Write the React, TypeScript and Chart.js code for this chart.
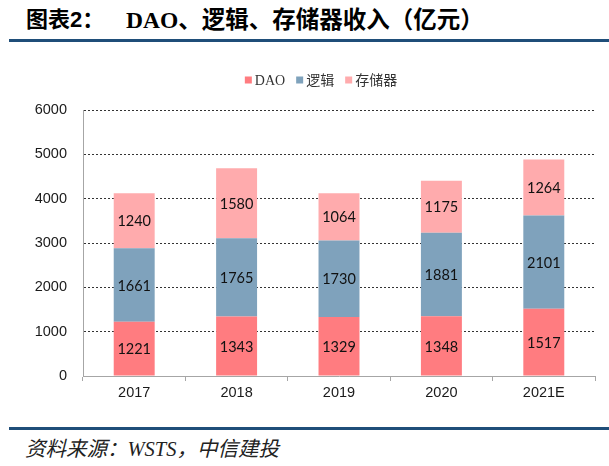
import React, { useEffect, useRef } from "react";
import { Chart, registerables } from "chart.js";

Chart.register(...registerables);

const categories = ["2017", "2018", "2019", "2020", "2021E"];
const daoValues = [1221, 1343, 1329, 1348, 1517];
const logicValues = [1661, 1765, 1730, 1881, 2101];
const memoryValues = [1240, 1580, 1064, 1175, 1264];
const seriesNames = ["DAO", "逻辑", "存储器"];
const seriesColors = ["#FF7C80", "#7FA2BC", "#FFABAD"];
const yMin = 0;
const yMax = 6000;
const yStep = 1000;

const CANVAS_W = 609;
const CANVAS_H = 355;
const CANVAS_TOP = 60;
const LEGEND_CX = 321;
const LEGEND_CY = 20;

const legendPlugin = {
  id: "customLegend",
  afterDraw(chart: any) {
    const ctx = chart.ctx as CanvasRenderingContext2D;
    ctx.save();
    ctx.font = '14px "Liberation Serif", "Noto Sans CJK SC", serif';
    ctx.textBaseline = "middle";
    const box = 7;
    const gapBT = 3;
    const gapItems = 11;
    const items = chart.data.datasets.map((ds: any) => ({
      label: ds.label as string,
      color: ds.backgroundColor as string,
      w: ctx.measureText(ds.label).width,
    }));
    const total =
      items.reduce((s: number, it: any) => s + box + gapBT + it.w, 0) +
      gapItems * (items.length - 1);
    let x = LEGEND_CX - total / 2;
    for (const it of items) {
      ctx.fillStyle = it.color;
      ctx.fillRect(x, LEGEND_CY - box / 2, box, box);
      x += box + gapBT;
      ctx.fillStyle = "#333";
      ctx.fillText(it.label, x, LEGEND_CY + 1);
      x += it.w + gapItems;
    }
    ctx.restore();
  },
};

const valueLabelPlugin = {
  id: "valueLabels",
  afterDatasetsDraw(chart: any) {
    const ctx = chart.ctx as CanvasRenderingContext2D;
    ctx.save();
    ctx.font = '14.5px Lato, "Open Sans", sans-serif';
    ctx.fillStyle = "#111";
    ctx.textAlign = "center";
    ctx.textBaseline = "middle";
    chart.data.datasets.forEach((ds: any, di: number) => {
      const meta = chart.getDatasetMeta(di);
      meta.data.forEach((el: any, i: number) => {
        const { x, y, base } = el.getProps(["x", "y", "base"], true);
        ctx.fillText(String(ds.data[i]), x, (y + base) / 2 + 1);
      });
    });
    ctx.restore();
  },
};

export default function App() {
  const canvasRef = useRef<HTMLCanvasElement | null>(null);

  useEffect(() => {
    if (!canvasRef.current) return;
    const chart = new Chart(canvasRef.current, {
      type: "bar",
      data: {
        labels: categories,
        datasets: [
          { label: seriesNames[0], data: daoValues, backgroundColor: seriesColors[0] },
          { label: seriesNames[1], data: logicValues, backgroundColor: seriesColors[1] },
          { label: seriesNames[2], data: memoryValues, backgroundColor: seriesColors[2] },
        ],
      },
      options: {
        responsive: false,
        animation: false,
        devicePixelRatio: 1,
        layout: { padding: { top: 50, right: 14, left: 0, bottom: 0 } },
        datasets: { bar: { categoryPercentage: 1, barPercentage: 0.4 } },
        plugins: {
          legend: { display: false },
          tooltip: { enabled: false },
        },
        scales: {
          x: {
            stacked: true,
            grid: {
              offset: true,
              drawOnChartArea: false,
              drawTicks: true,
              tickLength: 5,
              tickColor: "#A6A6A6",
            },
            border: { display: true, color: "#A6A6A6", width: 1 },
            ticks: {
              color: "#1a1a1a",
              padding: 3,
              font: { family: '"Liberation Sans", Arial, sans-serif', size: 14.5 },
            },
            afterFit(scale: any) {
              scale.height = 39;
            },
          },
          y: {
            stacked: true,
            min: yMin,
            max: yMax,
            ticks: {
              stepSize: yStep,
              color: "#1a1a1a",
              padding: 16,
              font: { family: '"Liberation Sans", Arial, sans-serif', size: 14.5 },
              callback: (v: any) => String(v),
            },
            grid: {
              drawTicks: false,
              color: (c: any) => (c.tick && c.tick.value === 0 ? "rgba(0,0,0,0)" : "#333333"),
              lineWidth: 1,
            },
            border: { display: true, color: "#A6A6A6", width: 1, dash: [2, 2] },
            afterFit(scale: any) {
              scale.width = 83;
            },
          },
        },
      } as any,
      plugins: [legendPlugin, valueLabelPlugin],
    });
    return () => chart.destroy();
  }, []);

  return (
    <div style={{ position: "absolute", left: 0, top: 0, width: 609, height: 466, background: "#fff", overflow: "hidden" }}>
      <div
        style={{
          position: "absolute",
          left: 26,
          top: 6,
          fontSize: 22,
          fontWeight: "bold",
          fontFamily: '"Liberation Sans", "Noto Sans CJK SC", sans-serif',
          color: "#000",
          whiteSpace: "nowrap",
          lineHeight: "28px",
        }}
      >
        图表2：
      </div>
      <div
        style={{
          position: "absolute",
          left: 126,
          top: 5,
          fontSize: 23.5,
          fontWeight: "bold",
          fontFamily: '"Liberation Serif", "Noto Sans CJK SC", serif',
          color: "#000",
          whiteSpace: "nowrap",
          lineHeight: "30px",
        }}
      >
        DAO、逻辑、存储器收入（亿元）
      </div>
      <div style={{ position: "absolute", left: 9, right: 0, top: 39, height: 3, background: "#1F4E79" }} />
      <div style={{ position: "absolute", left: 0, top: CANVAS_TOP, width: CANVAS_W, height: CANVAS_H }}>
        <canvas ref={canvasRef} width={CANVAS_W} height={CANVAS_H} style={{ width: CANVAS_W, height: CANVAS_H, display: "block" }} />
      </div>
      <div style={{ position: "absolute", left: 9, right: 0, top: 427, height: 3, background: "#1F4E79" }} />
      <div
        style={{
          position: "absolute",
          left: 25,
          top: 436,
          fontSize: 20.5,
          fontStyle: "italic",
          fontFamily: '"Liberation Serif", "Noto Sans CJK SC", serif',
          color: "#222",
          whiteSpace: "nowrap",
          lineHeight: "26px",
        }}
      >
        资料来源：WSTS，中信建投
      </div>
    </div>
  );
}
